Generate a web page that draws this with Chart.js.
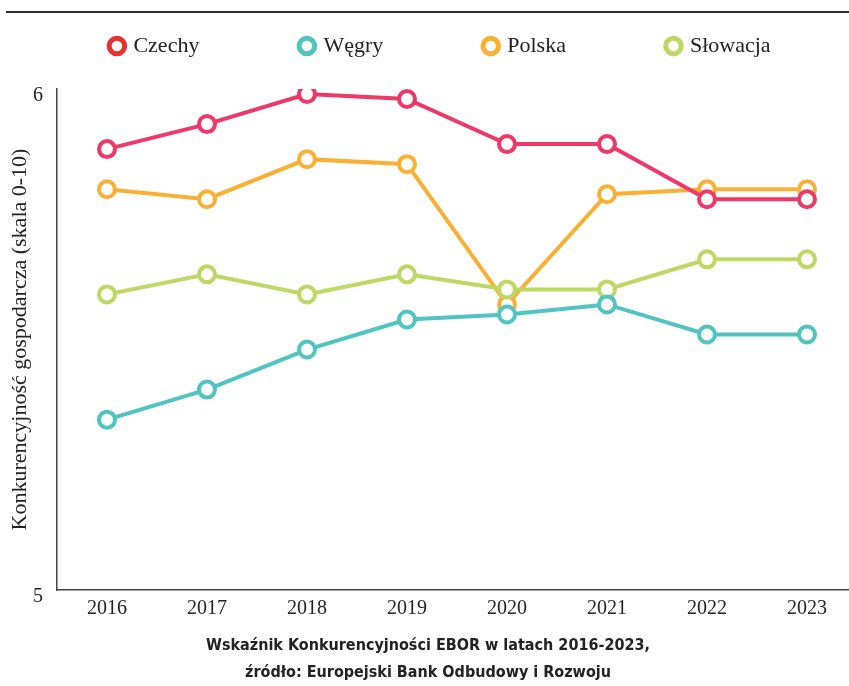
<!DOCTYPE html>
<html>
<head>
<meta charset="utf-8">
<script src="https://cdn.jsdelivr.net/npm/chart.js@4/dist/chart.umd.min.js"></script>
<style>
html,body{margin:0;padding:0;background:#fff;}
#wrap{width:849px;height:686px;}
</style>
</head>
<body>
<div id="wrap"><canvas id="c" width="849" height="686"></canvas></div>
<script>
// ---- data ----
const years = [2016, 2017, 2018, 2019, 2020, 2021, 2022, 2023];
const czechy   = [5.88, 5.93, 5.99, 5.98, 5.89, 5.89, 5.78, 5.78];
const wegry    = [5.34, 5.40, 5.48, 5.54, 5.55, 5.57, 5.51, 5.51];
const polska   = [5.80, 5.78, 5.86, 5.85, 5.57, 5.79, 5.80, 5.80];
const slowacja = [5.59, 5.63, 5.59, 5.63, 5.60, 5.60, 5.66, 5.66];
const yTicks = [5, 6];
const seriesNames = ['Czechy', 'Węgry', 'Polska', 'Słowacja'];
const yTitle = 'Konkurencyjność gospodarcza (skala 0-10)';
const caption = ['Wskaźnik Konkurencyjności EBOR w latach 2016-2023,', 'źródło: Europejski Bank Odbudowy i Rozwoju'];

// ---- styles ----
const lineColors = ['#ee3867', '#4fc4c0', '#fbb034', '#bdd963'];
const legendColors = ['#e8302e', '#4fc4c0', '#fbb034', '#bdd963'];
const drawOrder = [0, 1, 3, 2];
const serif = '"Liberation Serif", "Times New Roman", serif';
const narrow = '"Liberation Sans Narrow", "DejaVu Sans Condensed", sans-serif';

const seriesValues = [czechy, wegry, polska, slowacja];
const datasets = seriesValues.map((vals, i) => ({
  label: seriesNames[i],
  data: years.map((yr, j) => ({x: yr, y: vals[j]})),
  borderColor: lineColors[i],
  backgroundColor: '#ffffff',
  borderWidth: 4,
  pointRadius: 8,
  pointBorderWidth: 4,
  pointBackgroundColor: '#ffffff',
  pointBorderColor: lineColors[i],
  tension: 0,
  order: drawOrder[i]
}));

const decor = {
  id: 'decor',
  afterLayout(chart) {
    const lg = chart.legend;
    if (lg) { lg.left += 16.5; lg.right += 16.5; }
    const tb = chart.titleBlock;
    if (tb) { tb.left += 3.5; tb.right += 3.5; }
  },
  beforeDraw(chart) {
    const ctx = chart.ctx;
    ctx.save();
    ctx.fillStyle = '#ffffff';
    ctx.fillRect(0, 0, chart.width, chart.height);
    ctx.strokeStyle = '#2b2b2b';
    ctx.lineWidth = 2;
    ctx.beginPath();
    ctx.moveTo(6, 12);
    ctx.lineTo(chart.width, 12);
    ctx.stroke();
    ctx.restore();
  }
};

new Chart(document.getElementById('c'), {
  type: 'line',
  data: {datasets},
  plugins: [decor],
  options: {
    responsive: false,
    animation: false,
    devicePixelRatio: 1,
    layout: {autoPadding: false, padding: {top: -67, left: -20, right: -20, bottom: 0}},
    scales: {
      x: {
        type: 'linear',
        min: 2015.5,
        max: 2023.42,
        afterBuildTicks: s => { s.ticks = years.map(v => ({value: v})); },
        afterFit: s => { s.height = 42; s.paddingLeft = 0; s.paddingRight = 0; },
        grid: {display: false, drawTicks: false},
        border: {display: true, color: '#444', width: 1.5},
        ticks: {
          padding: 7, color: '#222', autoSkip: false, maxRotation: 0,
          font: {family: serif, size: 20},
          callback: v => String(v)
        }
      },
      y: {
        min: 5,
        max: 6,
        afterBuildTicks: s => { s.ticks = yTicks.map(v => ({value: v})); },
        afterFit: s => { s.width = 77; },
        grid: {display: false, drawTicks: false},
        border: {display: true, color: '#444', width: 1.5},
        ticks: {
          padding: 14, labelOffset: 7, color: '#222',
          font: {family: serif, size: 20},
          callback: v => String(v)
        },
        title: {
          display: true, text: yTitle, color: '#222',
          font: {family: serif, size: 22},
          padding: {top: 27, bottom: 0}
        }
      }
    },
    plugins: {
      tooltip: {enabled: false},
      legend: {
        position: 'top',
        labels: {
          usePointStyle: true,
          pointStyle: 'circle',
          boxWidth: 11,
          boxHeight: 11,
          padding: 102,
          color: '#222',
          font: {family: serif, size: 22},
          generateLabels: chart => chart.data.datasets.map((ds, i) => ({
            text: ds.label,
            fillStyle: '#ffffff',
            strokeStyle: legendColors[i],
            lineWidth: 5,
            pointStyle: 'circle',
            hidden: false,
            fontColor: '#222',
            datasetIndex: i
          }))
        }
      },
      subtitle: {
        display: true, text: '', position: 'top', weight: 500,
        font: {size: 10, lineHeight: 1},
        padding: {top: 12, bottom: 0}
      },
      title: {
        display: true, position: 'bottom', text: caption, color: '#222',
        font: {family: narrow, size: 16, weight: 'bold', lineHeight: '27px'},
        padding: {top: 0, bottom: 0}
      }
    }
  }
});
</script>
</body>
</html>
